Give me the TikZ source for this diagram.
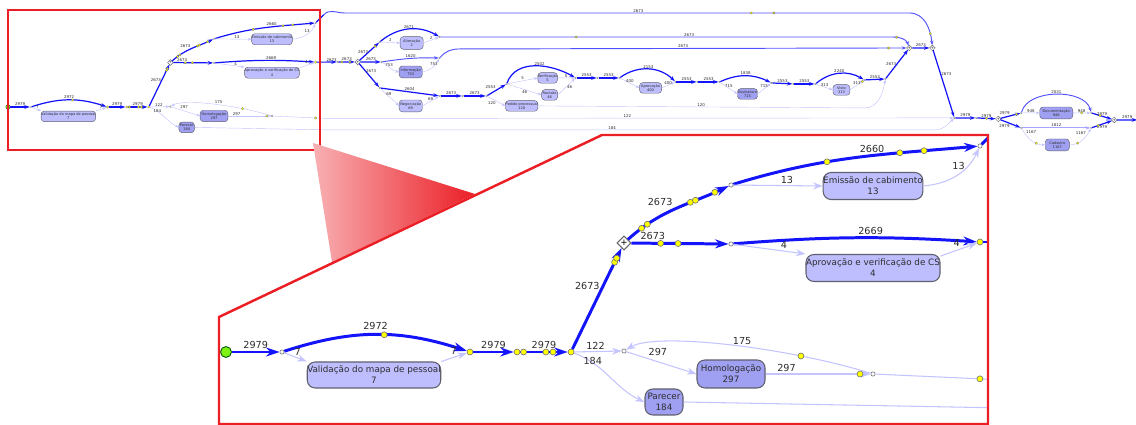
\documentclass[tikz,border=0pt]{standalone}
\usepackage{fontspec}
\setmainfont{DejaVu Sans}
\usepackage{xcolor}
\definecolor{flowblue}{RGB}{20,20,250}
\definecolor{midblue}{RGB}{80,80,255}
\definecolor{lightlav}{RGB}{196,196,255}
\definecolor{medlav}{RGB}{165,165,255}
\definecolor{boxfill}{RGB}{190,190,255}
\definecolor{boxdark}{RGB}{160,160,242}
\definecolor{boxline}{RGB}{95,95,110}
\definecolor{labgray}{RGB}{45,45,45}
\definecolor{tokfill}{RGB}{255,255,0}
\definecolor{startgreen}{RGB}{125,240,20}
\definecolor{zoomred}{RGB}{235,30,38}
\usepackage{tikz}
\usetikzlibrary{arrows.meta,shapes.geometric,calc}

% line width factor (smaller in the overview)
\newcommand{\lwf}{1}

% the part of the model that is shown twice (overview and zoom)
\newcommand{\subflow}{%
  % Start and validation
  \node[startnode] (startev) at (0,0) {};
  \node[junc] (splitval) at (56,0) {};
  \node[box, minimum width=2.5cm, minimum height=0.52cm] (validacao) at (148,23) {Validação do mapa de pessoal\\7};
  \node[tok] (joinval) at (244,0) {};
  \node[tok] (midpt) at (291,0) {};
  \node[tok] (splitmain) at (345,0) {};
  \draw[flow] (startev) -- node[lab, above] {2979} (splitval);
  \draw[flow] (splitval) to[bend left=18] node[tok, pos=0.55] {} node[lab, above=1pt, pos=0.5] {2972} (joinval);
  \draw[light] (splitval) -- node[lab, above, pos=0.6] {7} (validacao.north west);
  \draw[light] (validacao.north east) -- node[lab, above, pos=0.5] {7} (joinval);
  \draw[flow] (joinval) -- node[lab, above] {2979} (midpt);
  \draw[flow] (midpt) -- node[tok, pos=0.07] {} node[lab, above] {2979} node[tok, pos=0.54] {} node[tok, pos=0.69] {} (splitmain);
  % Homologacao and Parecer
  \node[gate] (andsplit) at (398,-109) {+};
  \node[junc] (splithom) at (398,-1) {};
  \node[boxdk, minimum width=1.36cm, minimum height=0.56cm] (homolog) at (505,22) {Homologação\\297};
  \node[junc] (joinhom) at (647,22) {};
  \coordinate (homexit) at (780,28);
  \node[boxdk, minimum width=0.76cm, minimum height=0.52cm] (parecer) at (438,50) {Parecer\\184};
  \coordinate (parexit) at (780,56);
  \draw[flow] (splitmain) -- node[lab, left, pos=0.62] {2673} node[tok, pos=0.86] {} node[tok, pos=0.9] {} (andsplit);
  \draw[light] (splitmain) -- node[lab, above, pos=0.45] {122} (splithom);
  \draw[light] (splitmain) to[out=-20, in=155] node[lab, right, pos=0.08, yshift=-3pt] {184} (parecer.west);
  \draw[light] (splithom) -- node[lab, above=2pt, pos=0.45] {297} (homolog.west);
  \draw[light] (homolog.east) -- node[lab, above, pos=0.2] {297} node[tok, pos=0.9] {} (joinhom);
  \draw[light] (joinhom) .. controls (560,-5) and (430,-20) .. node[tok, pos=0.25] {} node[lab, above, pos=0.45] {175} (splithom);
  \draw[light, -] (joinhom) -- node[tok, pos=0.8] {} (homexit);
  \draw[light, -] (parecer.east) -- (parexit);
  % Emissao de cabimento
  \node[junc] (splitup) at (505,-167) {};
  \node[box, minimum width=1.88cm, minimum height=0.54cm] (emissao) at (647,-166) {Emissão de cabimento\\13};
  \node[junc] (joinup) at (754,-206) {};
  \coordinate (upexit) at (774,-226);
  \draw[flow] (andsplit) to[out=42, in=205] node[tok, pos=0.14] {} node[tok, pos=0.2] {} node[lab, above left, pos=0.5] {2673} node[tok, pos=0.65] {} node[tok, pos=0.7] {} node[tok, pos=0.88] {} (splitup);
  \draw[flow] (splitup) to[out=17, in=185] node[tok, pos=0.38] {} node[lab, above, pos=0.58] {2660} node[tok, pos=0.7] {} node[tok, pos=0.8] {} (joinup);
  \draw[light] (splitup) -- node[lab, above, pos=0.6] {13} (emissao.west);
  \draw[light] (emissao.east) to[out=5, in=-115] node[lab, left, pos=0.7] {13} (joinup);
  \draw[flow, -] (joinup) -- (upexit);
  % Aprovacao e verificacao de CS
  \node[junc] (splitlow) at (505,-108) {};
  \node[box, minimum width=2.68cm, minimum height=0.54cm] (aprov) at (647,-84) {Aprovação e verificação de CS\\4};
  \node[tok] (joinlow) at (754,-110) {};
  \coordinate (lowexit) at (780,-110);
  \draw[flow] (andsplit) -- node[lab, above, pos=0.22] {2673} node[tok, pos=0.3] {} node[tok, pos=0.48] {} (splitlow);
  \draw[flow] (splitlow) to[bend left=4] node[lab, above, pos=0.57] {2669} (joinlow);
  \draw[light] (splitlow) -- node[lab, above, pos=0.7] {4} (aprov.north west);
  \draw[light] (aprov.10) to[out=20, in=-160] node[lab, above left, pos=0.6] {4} (joinlow);
  \draw[flow, -] (joinlow) -- (lowexit);
}

\begin{document}
\begin{tikzpicture}[x=0.02cm, y=-0.02cm,
  flow/.style={draw=flowblue, line width=\lwf*1.7pt, -{Stealth[length=0pt 4.5, width=0pt 3]}},
  midflow/.style={draw=midblue, line width=\lwf*1.3pt, -{Stealth[length=0pt 5, width=0pt 3.5]}},
  medlight/.style={draw=medlav, line width=\lwf*1.5pt, -{Stealth[length=0pt 4.5, width=0pt 3]}},
  light/.style={draw=lightlav, line width=\lwf*0.6pt, -{Stealth[length=0pt 9, width=0pt 6.5]}},
  box/.style={rectangle, rounded corners=\lwf*4.5pt, draw=boxline, fill=boxfill, line width=\lwf*0.6pt, align=center, inner sep=0pt, font=\fontsize{5}{6.2}\selectfont, text=labgray},
  boxdk/.style={box, fill=boxdark},
  tok/.style={circle, fill=tokfill, draw=black!55, line width=\lwf*0.35pt, minimum size=3.4pt, inner sep=0pt},
  junc/.style={circle, fill=white, draw=gray, line width=\lwf*0.4pt, minimum size=2.4pt, inner sep=0pt},
  gate/.style={diamond, fill=white, draw=gray!80!black, line width=\lwf*0.6pt, minimum size=8pt, inner sep=0pt, font=\fontsize{5}{5}\selectfont},
  startnode/.style={circle, fill=startgreen, draw=green!35!black, line width=\lwf*0.5pt, minimum size=6.2pt, inner sep=0pt},
  lab/.style={font=\fontsize{5.5}{6}\selectfont, text=labgray, inner sep=1pt}
]
\fill[white] (0,0) rectangle (1136,425);
\useasboundingbox (0,0) rectangle (1136,425);

% Overview: left part
\begin{scope}[shift={(8,107)}, scale=0.408, transform shape]
  \renewcommand{\lwf}{0.408}
  \subflow
\end{scope}

% Overview: rest of the model
\begin{scope}[scale=0.408, transform shape, x=0.049cm, y=-0.049cm]
  \renewcommand{\lwf}{0.408}
  \node[junc] (thA) at (338,62) {};
  \node[gate] (gateA) at (358,62) {+};
  \node[junc] (splA) at (380,42) {};
  \node[box, minimum width=1.13cm, minimum height=0.62cm] (alteracao) at (412,43) {Alteração\\2};
  \node[junc] (joinA) at (440,37) {};
  \node[junc] (splB) at (382,62) {};
  \node[boxdk, minimum width=1.13cm, minimum height=0.58cm] (informacao) at (411,72) {Informação\\753};
  \node[junc] (joinB) at (440,58) {};
  \node[junc] (splC) at (380,88) {};
  \node[box, minimum width=1.13cm, minimum height=0.58cm] (negociacao) at (411,106) {Negociação\\69};
  \node[junc] (joinC) at (440,96) {};
  \node[junc] (midC) at (463,96) {};
  \node[junc] (splD) at (487,96) {};
  \node[junc] (splE) at (507,84) {};
  \node[box, minimum width=0.78cm, minimum height=0.52cm] (verificacao) at (548,78) {Verificação\\5};
  \node[box, minimum width=0.78cm, minimum height=0.52cm] (revisao) at (550,95) {Revisão\\46};
  \node[box, minimum width=1.42cm, minimum height=0.52cm] (pedido) at (522,106) {Pedido processual\\120};
  \node[junc] (joinE) at (576,78) {};
  \node[junc] (midE) at (598,78) {};
  \node[junc] (splF) at (620,78) {};
  \node[box, minimum width=1.08cm, minimum height=0.52cm] (aprovacao) at (651,88) {Aprovação\\400};
  \node[junc] (joinF) at (676,82) {};
  \node[junc] (midF) at (698,82) {};
  \node[junc] (splG) at (720,82) {};
  \node[boxdk, minimum width=0.98cm, minimum height=0.52cm] (assinatura) at (748,94) {Assinatura\\715};
  \node[junc] (joinG) at (772,83) {};
  \node[junc] (midG) at (794,84) {};
  \node[junc] (splH) at (816,84) {};
  \node[box, minimum width=0.83cm, minimum height=0.52cm] (visto) at (842,90) {Visto\\313};
  \node[junc] (joinH) at (865,80) {};
  \node[junc] (joinI) at (886,79) {};
  \node[gate] (gateB) at (910,48) {+};
  \node[gate] (gateC) at (933,48) {+};
  \node[junc] (joinM) at (955,118) {};
  \node[junc] (midM) at (977,118) {};
  \node[gate] (gateD) at (999,119) {+};
  \node[junc] (splP) at (1022,113) {};
  \node[boxdk, minimum width=1.62cm, minimum height=0.58cm] (documentacao) at (1057,113) {Documentação\\948};
  \node[junc] (joinP) at (1092,113) {};
  \node[junc] (splQ) at (1022,128) {};
  \node[boxdk, minimum width=1.18cm, minimum height=0.58cm] (cadastro) at (1058,145) {Cadastro\\1167};
  \node[junc] (joinQ) at (1092,128) {};
  \node[gate] (gateE) at (1115,120) {+};
  \coordinate (endflow) at (1138,120);

  % main line after the zoomed part
  \draw[flow] (lowexit) -- node[lab, above] {2673} (thA);
  \draw[flow] (thA) -- node[tok, pos=0.2] {} node[lab, above] {2673} node[tok, pos=0.7] {} (gateA);
  \draw[flow] (gateA) -- node[lab, left] {2673} node[tok, pos=0.8] {} (splA);
  \draw[flow] (splA) to[bend left=35] node[lab, above] {2671} (joinA);
  \draw[light] (splA) -- node[lab, above] {2} (alteracao.west);
  \draw[light] (alteracao.east) -- node[lab, above] {2} (joinA);
  \draw[midflow] (joinA) -- node[tok, pos=0.3] {} node[lab, above, pos=0.55] {2673} (893,37) to[out=0, in=110] node[tok, pos=0.2] {} (gateB);
  \draw[flow] (gateA) -- node[lab, above] {2673} (splB);
  \draw[midflow] (splB) to[bend left=5] node[lab, above] {1620} (joinB);
  \draw[light] (splB) to[out=-30, in=170] node[lab, above, pos=0.4] {753} (informacao.west);
  \draw[light] (informacao.east) to[out=10, in=-120] node[lab, above, pos=0.6] {753} (joinB);
  \draw[midflow] (joinB) to[out=50, in=180] (460,49) -- node[lab, above, pos=0.5] {2673} node[tok, pos=0.96] {} (gateB);
  \draw[flow] (gateA) -- node[lab, right, pos=0.3] {2673} (splC);
  \draw[flow] (splC) -- node[lab, above] {2604} (joinC);
  \draw[light] (splC) -- node[lab, above, pos=0.45] {69} (negociacao.west);
  \draw[light] (negociacao.east) -- node[lab, above, pos=0.5] {69} (joinC);
  \draw[flow] (joinC) -- node[lab, above] {2673} (midC);
  \draw[flow] (midC) -- node[lab, above] {2673} (splD);
  \draw[flow] (splD) -- node[lab, above left] {2553} (splE);
  \draw[flow] (splE) to[out=70, in=150] node[lab, above, pos=0.55] {2502} (joinE);
  \draw[light] (splE) -- node[lab, above] {5} (verificacao.west);
  \draw[light] (verificacao.east) -- node[lab, above] {5} (joinE);
  \draw[light] (splE) -- node[lab, below] {46} (revisao.west);
  \draw[light] (revisao.east) -- node[lab, right] {46} (joinE);
  \draw[light] (splD) -- node[lab, below left] {120} (pedido.west);
  \draw[light] (pedido.east) -- node[lab, above, pos=0.5] {120} (865,108) to[out=0, in=-100] (joinI);
  \draw[flow] (joinE) -- node[lab, above] {2553} (midE);
  \draw[flow] (midE) -- node[lab, above] {2553} (splF);
  \draw[flow] (splF) to[bend left=40] node[lab, above] {2153} (joinF);
  \draw[light] (splF) -- node[lab, above] {400} (aprovacao.west);
  \draw[light] (aprovacao.east) -- node[lab, above] {400} (joinF);
  \draw[flow] (joinF) -- node[lab, above] {2553} (midF);
  \draw[flow] (midF) -- node[lab, above] {2553} (splG);
  \draw[flow] (splG) to[bend left=25] node[lab, above] {1838} (joinG);
  \draw[light] (splG) -- node[lab, above] {715} (assinatura.west);
  \draw[light] (assinatura.east) -- node[lab, above] {715} (joinG);
  \draw[flow] (joinG) -- node[lab, above] {2553} (midG);
  \draw[flow] (midG) -- node[lab, above] {2553} (splH);
  \draw[flow] (splH) to[bend left=35] node[lab, above] {2240} (joinH);
  \draw[light] (splH) -- node[lab, above] {313} (visto.west);
  \draw[light] (visto.east) -- node[lab, above] {313} node[tok, pos=0.9] {} (joinH);
  \draw[flow] (joinH) -- node[lab, above] {2553} (joinI);
  \draw[flow] (joinI) -- node[lab, left] {2673} (gateB);
  \draw[flow] (gateB) -- node[lab, above] {2673} (gateC);
  \draw[midflow] (upexit) to[out=50, in=180] (345,13) -- node[lab, above, pos=0.52] {2673} node[tok, pos=0.72] {} node[tok, pos=0.76] {} (910,13) to[out=0, in=95] node[tok, pos=0.75] {} (gateC);
  \draw[flow] (gateC) -- node[lab, right, pos=0.35] {2673} (joinM);
  \draw[light] (homexit) -- node[lab, above, pos=0.48] {122} (joinM);
  \draw[light] (parexit) -- node[lab, above, pos=0.47] {184} (935,130) to[out=0, in=-135] (joinM);
  % last part
  \draw[flow] (joinM) -- node[lab, above] {2979} (midM);
  \draw[flow] (midM) -- node[lab, above] {2979} node[tok, pos=0.5] {} (gateD);
  \draw[flow] (gateD) -- node[lab, above left] {2979} node[tok, pos=0.8] {} (splP);
  \draw[flow] (gateD) -- node[lab, below left] {2979} (splQ);
  \draw[midflow] (splP) to[out=75, in=105, looseness=0.9] node[lab, above] {2031} (joinP);
  \draw[light] (splP) -- node[lab, above] {948} (documentacao.west);
  \draw[light] (documentacao.east) -- node[lab, above] {948} node[tok, pos=0.5] {} (joinP);
  \draw[medlight] (splQ) -- node[lab, above] {1812} (joinQ);
  \draw[light] (splQ) to[out=-60, in=180] node[lab, above right, pos=0.2] {1167} node[tok, pos=0.7] {} (cadastro.west);
  \draw[light] (cadastro.east) to[out=0, in=-120] node[tok, pos=0.3] {} node[lab, above left, pos=0.75] {1167} (joinQ);
  \draw[flow] (joinP) -- node[lab, above] {2979} node[tok, pos=0.4] {} (gateE);
  \draw[flow] (joinQ) -- node[lab, below] {2979} node[tok, pos=0.3] {} (gateE);
  \draw[flow] (gateE) -- node[lab, above] {2979} (endflow);
\end{scope}

% Zoom marker
\draw[zoomred, line width=1.4pt] (8,10) rectangle (320,150);
\shade[left color=zoomred!35!white, right color=zoomred] (313,143) -- (475,194) -- (332,262) -- cycle;

% Zoomed view
\fill[white] (219,317) -- (602,135) -- (988,135) -- (988,424) -- (219,424) -- cycle;
\begin{scope}
  \clip (219,317) -- (602,135) -- (988,135) -- (988,424) -- (219,424) -- cycle;
  \begin{scope}[shift={(226,352)}, transform shape]
    \subflow
  \end{scope}
\end{scope}
\draw[zoomred, line width=1.4pt] (219,317) -- (602,135) -- (988,135) -- (988,424) -- (219,424) -- cycle;

\end{tikzpicture}
\end{document}
